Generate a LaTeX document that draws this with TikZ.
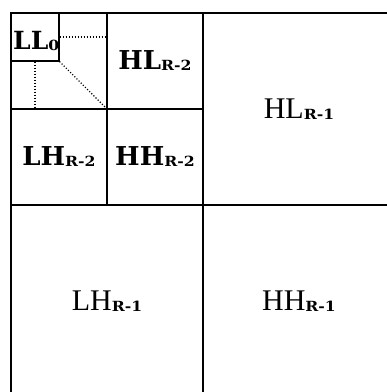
\documentclass[tikz,border=0pt]{standalone}
\usepackage{fontspec}
\setmainfont{Liberation Serif}
\newfontfamily\schfont{DejaVu Serif}
\usetikzlibrary{positioning}

\newcommand{\bandsub}[1]{\raisebox{-1pt}{\scalebox{1.12}[1]{\schfont\bfseries\fontsize{14}{14}\selectfont #1}}}

\begin{document}
\begin{tikzpicture}[x=1pt,y=-1pt,
  cell/.style={rectangle,draw,line width=1.1pt,inner sep=0pt,align=center},
  bigband/.style={cell,minimum size=192pt,font=\fontsize{30}{30}\selectfont},
  smallband/.style={cell,minimum size=96pt,font=\schfont\bfseries\fontsize{26}{26}\selectfont},
  guide/.style={line width=1.1pt,dash pattern=on 1.1pt off 1.9pt},
]
  \useasboundingbox (0,0) rectangle (387,392);
  \clip (0,0) rectangle (387,392);

  % level R-1
  \node[bigband] (hl1) at (299,109) {HL\bandsub{R-1}};
  \node[bigband] (lh1) at (107,301) {LH\bandsub{R-1}};
  \node[bigband] (hh1) at (299,301) {HH\bandsub{R-1}};

  % level R-2
  \node[cell,minimum size=96pt] (ll1) at (59,61) {};
  \node[smallband] (hl2) at (155,61)  {HL\bandsub{R-2}};
  \node[smallband] (lh2) at (59,157)  {LH\bandsub{R-2}};
  \node[smallband] (hh2) at (155,157) {HH\bandsub{R-2}};

  % coarsest band
  \node[cell,minimum size=48pt] (ll0) at (35,37) {};
  \node[anchor=base west,inner sep=0pt,font=\schfont\bfseries\fontsize{25}{25}\selectfont]
    (ll0txt) at (13,49) {LL\bandsub{0}};

  \draw[guide] (ll0.east) -- (ll0.east -| hl2.west);
  \draw[guide] (ll0.south) -- (ll0.south |- lh2.north);
  \draw[guide] (ll0.south east) -- (ll1.south east);
\end{tikzpicture}
\end{document}
